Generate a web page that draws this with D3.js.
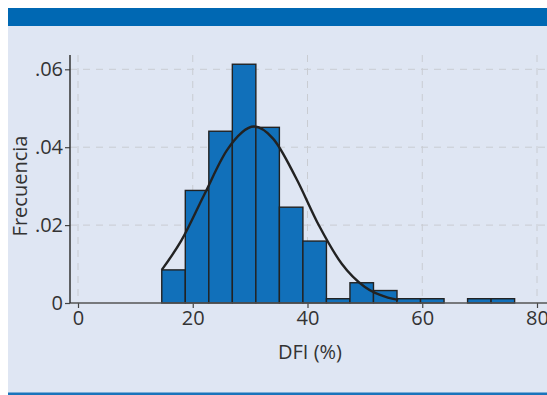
<!DOCTYPE html>
<html><head><meta charset="utf-8">
<script src="https://cdn.jsdelivr.net/npm/d3@7"></script>
<style>
html,body{margin:0;padding:0;background:#fff;}
svg{display:block;}
text{font-family:"Open Sans",sans-serif;fill:#333;}
</style></head>
<body><svg id="c" width="547" height="395"></svg>
<script>
// Histogram bins (DFI %) and densities
const binEdges = [14.6,18.7,22.8,26.9,31.0,35.1,39.2,43.3,47.4,51.5,55.6,59.7,63.8,67.9,72.0,76.1];
const densities = [0.0085,0.0289,0.0441,0.0613,0.0451,0.0246,0.0159,0.0011,0.0052,0.0032,0.0011,0.0011,0,0.0011,0.0011];
// Fitted normal curve
const curveX = [14.6,18,22,26,30.7,34,38,42,46,50,54,55.8];
const curveY = [0.0085,0.0160,0.0278,0.0393,0.0453,0.0422,0.0321,0.0199,0.0100,0.0041,0.0014,0.0008];
const xTicks = [0,20,40,60,80];
const yTicks = [0,0.02,0.04,0.06];
const yTickLabels = ["0",".02",".04",".06"];

const FS = 20;
const svg = d3.select("#c");
// panel background
svg.append("rect").attr("x",8).attr("y",8).attr("width",539).attr("height",387).attr("fill","#dfe6f3");
svg.append("rect").attr("x",8).attr("y",8).attr("width",539).attr("height",18).attr("fill","#0068b3");
svg.append("rect").attr("x",8).attr("y",392.5).attr("width",539).attr("height",2.5).attr("fill","#1a74bb");

const x = d3.scaleLinear().domain([0,80]).range([78,537]);
const y = d3.scaleLinear().domain([0,0.06]).range([303,69.3]);

// grid
const g = svg.append("g");
g.selectAll("line.vg").data(xTicks).join("line")
  .attr("x1",d=>x(d)).attr("x2",d=>x(d)).attr("y1",55).attr("y2",303)
  .attr("stroke","#c9ccd2").attr("stroke-width",1).attr("stroke-dasharray","7,6");
g.selectAll("line.hg").data(yTicks.slice(1)).join("line")
  .attr("x1",70).attr("x2",547).attr("y1",d=>y(d)).attr("y2",d=>y(d))
  .attr("stroke","#c9ccd2").attr("stroke-width",1).attr("stroke-dasharray","7,6");

// bars
const bins = densities.map((d,i)=>({x0:binEdges[i],x1:binEdges[i+1],v:d})).filter(b=>b.v>0);
svg.append("g").selectAll("rect").data(bins).join("rect")
  .attr("x",d=>x(d.x0)).attr("width",d=>x(d.x1)-x(d.x0))
  .attr("y",d=>y(d.v)).attr("height",d=>y(0)-y(d.v))
  .attr("fill","#1170ba").attr("stroke","#222").attr("stroke-width",1.4);

// curve
const pts = curveX.map((v,i)=>[v,curveY[i]]);
svg.append("path").datum(pts)
  .attr("d",d3.line().x(d=>x(d[0])).y(d=>y(d[1])).curve(d3.curveMonotoneX))
  .attr("fill","none").attr("stroke","#222").attr("stroke-width",2.4);

// x axis
const xa = svg.append("g").attr("transform","translate(0,303)")
  .call(d3.axisBottom(x).tickValues(xTicks).tickSize(5).tickPadding(3).tickFormat(d3.format("d")));
xa.select(".domain").remove();
xa.append("line").attr("x1",70).attr("x2",547).attr("y1",0).attr("y2",0).attr("stroke","#555").attr("stroke-width",1.5);
xa.selectAll(".tick line").attr("stroke","#444").attr("stroke-width",1.2);
xa.selectAll(".tick text").attr("font-size",FS).attr("fill","#333").attr("font-family","'Open Sans',sans-serif")
  .attr("dy","0.72em");

// y axis
const ya = svg.append("g").attr("transform","translate(70,0)")
  .call(d3.axisLeft(y).tickValues(yTicks).tickSize(5).tickPadding(2).tickFormat((d,i)=>yTickLabels[i]));
ya.select(".domain").remove();
ya.append("line").attr("x1",0).attr("x2",0).attr("y1",55).attr("y2",303).attr("stroke","#333").attr("stroke-width",1.5);
ya.selectAll(".tick line").attr("stroke","#444").attr("stroke-width",1.2);
ya.selectAll(".tick text").attr("font-size",FS).attr("fill","#333").attr("font-family","'Open Sans',sans-serif");

// labels
svg.append("text").attr("x",310).attr("y",359).attr("text-anchor","middle").attr("font-size",FS).text("DFI (%)");
svg.append("text").attr("transform","translate(27,186) rotate(-90)").attr("text-anchor","middle").attr("font-size",FS).text("Frecuencia");
</script></body></html>
